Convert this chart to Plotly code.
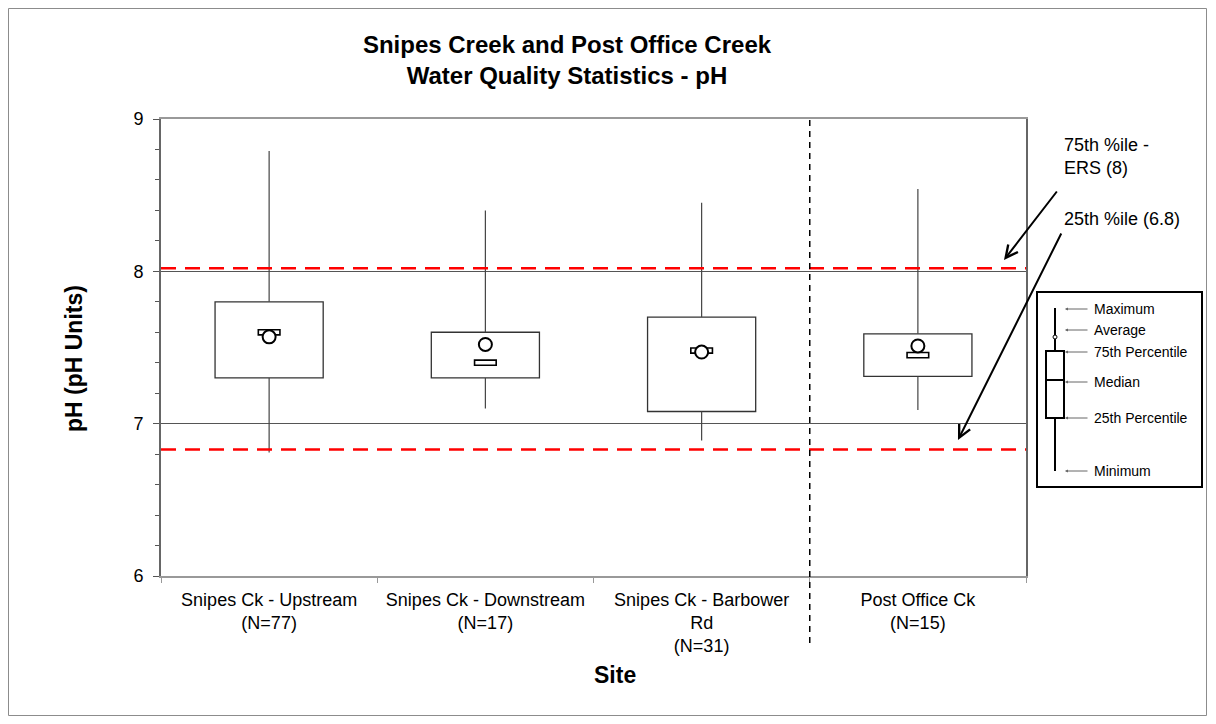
import plotly.graph_objects as go

# -----------------------------------------------------------------------------
# data

sites = ['Snipes Ck - Upstream<br>(N=77)',
         'Snipes Ck - Downstream<br>(N=17)',
         'Snipes Ck - Barbower<br>Rd<br>(N=31)',
         'Post Office Ck<br>(N=15)']
ph_min = [6.81, 7.10, 6.89, 7.09]
ph_q1 = [7.30, 7.30, 7.08, 7.31]
ph_median = [7.60, 7.40, 7.48, 7.45]
ph_q3 = [7.80, 7.60, 7.70, 7.59]
ph_max = [8.79, 8.40, 8.45, 8.54]
ph_mean = [7.57, 7.52, 7.47, 7.51]

ers_75 = 8.02   # 75th %ile - ERS (8)
ers_25 = 6.83   # 25th %ile (6.8)

legend_labels = ['Maximum', 'Average', '75th Percentile', 'Median', '25th Percentile', 'Minimum']

# -----------------------------------------------------------------------------
# page has an 8px body margin, so the figure is drawn 8px in from the window

O = 8
W, H = 1216 - 2 * O, 724 - 2 * O
# plot area in window pixels
L, R, T, B = 161, 1026, 119, 576


def px(x):
    return (x - L) / (R - L)


def py(y):
    return (B - y) / (B - T)


font = 'Arial, Liberation Sans, sans-serif'
edge = '#333333'

fig = go.Figure()

# whiskers
wx, wy = [], []
for s, lo, q1, q3, hi in zip(sites, ph_min, ph_q1, ph_q3, ph_max):
    wx += [s, s, None, s, s, None]
    wy += [q3, hi, None, lo, q1, None]
fig.add_trace(go.Scatter(x=wx, y=wy, mode='lines', line=dict(color='#444444', width=1.2),
                         hoverinfo='skip', showlegend=False))

# boxes
fig.add_trace(go.Bar(x=sites, y=[b - a for a, b in zip(ph_q1, ph_q3)], base=ph_q1, width=0.5,
                     marker=dict(color='white', line=dict(color=edge, width=1.3)),
                     showlegend=False, name='IQR'))

# median as a small hollow bar
med_h = 0.034
fig.add_trace(go.Bar(x=sites, y=[med_h] * len(sites), base=[m - med_h / 2 for m in ph_median], width=0.1,
                     marker=dict(color='white', line=dict(color='black', width=1.6)),
                     showlegend=False, name='Median'))

# mean
fig.add_trace(go.Scatter(x=sites, y=ph_mean, mode='markers',
                         marker=dict(symbol='circle', size=13, color='white',
                                     line=dict(color='black', width=2)),
                         showlegend=False, name='Average'))

shapes = []
# criteria lines
for v in [ers_75, ers_25]:
    shapes.append(dict(type='line', xref='paper', yref='y', x0=0, x1=1, y0=v, y1=v,
                       line=dict(color='red', width=2.5, dash='15px,9px')))
# divider between Snipes Ck and Post Office Ck
shapes.append(dict(type='line', xref='x', yref='paper', x0=2.5, x1=2.5, y0=py(643), y1=1,
                   line=dict(color='black', width=1.5, dash='6px,5px')))
# outer chart border
shapes.append(dict(type='rect', xref='paper', yref='paper', x0=px(8.5), x1=px(1206.5), y0=py(715.5), y1=py(8.5),
                   line=dict(color='#8c8c8c', width=1)))

# key box on the right
shapes.append(dict(type='rect', xref='paper', yref='paper', x0=px(1037), x1=px(1202), y0=py(487), y1=py(292),
                   line=dict(color='black', width=2), fillcolor='white', layer='above'))
shapes.append(dict(type='line', xref='paper', yref='paper', x0=px(1055), x1=px(1055), y0=py(471), y1=py(308),
                   line=dict(color='black', width=2), layer='above'))
shapes.append(dict(type='rect', xref='paper', yref='paper', x0=px(1046), x1=px(1064), y0=py(418), y1=py(351),
                   line=dict(color='black', width=2), fillcolor='white', layer='above'))
shapes.append(dict(type='line', xref='paper', yref='paper', x0=px(1047), x1=px(1063), y0=py(380), y1=py(380),
                   line=dict(color='black', width=2), layer='above'))
shapes.append(dict(type='circle', xref='paper', yref='paper', x0=px(1053), x1=px(1057), y0=py(339), y1=py(335),
                   line=dict(color='black', width=1), fillcolor='white', layer='above'))

annotations = []
key_y = [309, 330, 352, 382, 418, 471]
for lab, yy in zip(legend_labels, key_y):
    annotations.append(dict(xref='paper', yref='paper', x=px(1092), y=py(yy), text=lab, showarrow=False,
                            xanchor='left', yanchor='middle', font=dict(family=font, size=14, color='black')))
    annotations.append(dict(xref='paper', yref='paper', x=px(1065), y=py(yy), text='', showarrow=True,
                            ax=24, ay=0, arrowhead=2, arrowsize=0.6, arrowwidth=1, arrowcolor='#666666'))

# criteria labels with arrows
annotations.append(dict(xref='paper', yref='paper', x=px(1062), y=py(156), text='75th %ile -<br>ERS (8)',
                        showarrow=False, xanchor='left', yanchor='middle', align='left',
                        font=dict(family=font, size=18, color='black')))
annotations.append(dict(xref='paper', yref='paper', x=px(1062), y=py(219), text='25th %ile (6.8)',
                        showarrow=False, xanchor='left', yanchor='middle',
                        font=dict(family=font, size=18, color='black')))
annotations.append(dict(xref='paper', yref='paper', x=px(1004), y=py(260), text='', showarrow=True,
                        ax=54, ay=-70, arrowhead=5, arrowsize=1.2, arrowwidth=2, arrowcolor='black'))
annotations.append(dict(xref='paper', yref='paper', x=px(958), y=py(440), text='', showarrow=True,
                        ax=104, ay=-208, arrowhead=5, arrowsize=1.2, arrowwidth=2, arrowcolor='black'))

# axis titles
annotations.append(dict(xref='paper', yref='paper', x=px(74), y=py(359), text='<b>pH (pH Units)</b>',
                        showarrow=False, textangle=-90, xanchor='center', yanchor='middle',
                        font=dict(family=font, size=23, color='black')))
annotations.append(dict(xref='paper', yref='paper', x=px(615), y=py(675), text='<b>Site</b>',
                        showarrow=False, xanchor='center', yanchor='middle',
                        font=dict(family=font, size=23, color='black')))

fig.update_layout(
    width=W, height=H,
    margin=dict(l=L - O, r=W - (R - O), t=T - O, b=H - (B - O)),
    paper_bgcolor='white', plot_bgcolor='white',
    barmode='overlay',
    title=dict(text='<b>Snipes Creek and Post Office Creek<br>Water Quality Statistics - pH</b>',
               x=(567 - O) / W, xanchor='center', y=1 - (53 - O) / H, yanchor='middle',
               font=dict(family=font, size=24, color='black')),
    shapes=shapes,
    annotations=annotations,
    font=dict(family=font, color='black'),
)

fig.update_xaxes(type='category', categoryorder='array', categoryarray=sites, range=[-0.5, 3.5],
                 showline=True, linecolor='#999999', linewidth=2, mirror=True,
                 ticks='outside', tickson='boundaries', ticklen=5, tickcolor='#999999',
                 ticklabelstandoff=6,
                 tickangle=0, showgrid=False, tickfont=dict(family=font, size=18, color='black'))
fig.update_yaxes(range=[6, 9], tickvals=[6, 7, 8, 9],
                 showline=True, linecolor='#666666', linewidth=2, mirror=True,
                 ticks='outside', ticklen=6, tickcolor='#555555', ticklabelstandoff=6,
                 minor=dict(dtick=0.2, ticks='outside', ticklen=4, tickcolor='#555555', showgrid=False),
                 showgrid=True, gridcolor='#555555', gridwidth=1.2, zeroline=False,
                 tickfont=dict(family=font, size=18, color='black'))

fig.write_html("out.html")
